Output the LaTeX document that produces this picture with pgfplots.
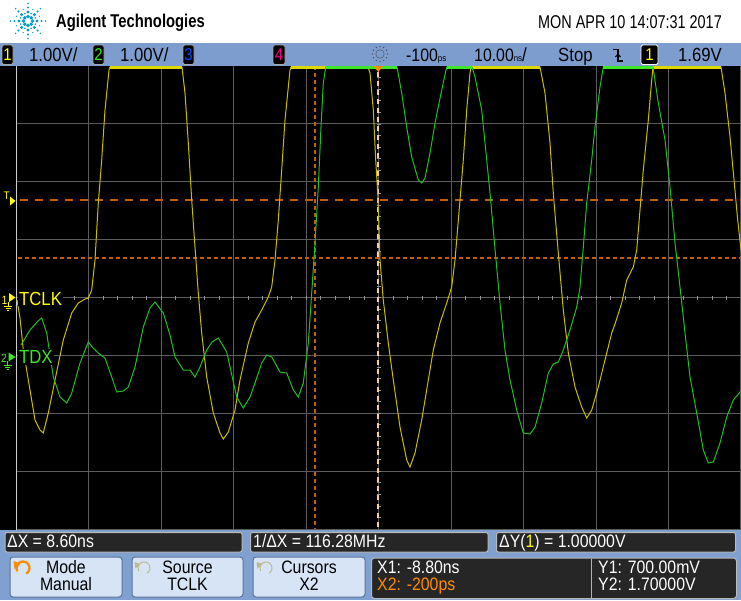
\documentclass[border=0pt]{standalone}
\usepackage{pgfplots}
\pgfplotsset{compat=1.18}
\usepackage{fontspec}
\setmainfont{Liberation Sans}[FakeStretch=0.88]
\newfontfamily\hdr{Liberation Sans}[FakeStretch=0.8]
\newfontfamily\datef{Liberation Sans}[FakeStretch=0.78]
\definecolor{statbar}{RGB}{124,157,206}
\definecolor{botbg}{RGB}{128,160,208}
\definecolor{btn}{RGB}{214,228,246}
\definecolor{btnborder}{RGB}{90,115,155}
\definecolor{darkbar}{RGB}{38,38,38}
\definecolor{gridc}{RGB}{92,92,92}
\definecolor{ytrace}{RGB}{200,190,0}
\definecolor{gtrace}{RGB}{35,190,35}
\definecolor{ylab}{RGB}{255,255,0}
\definecolor{glab}{RGB}{60,230,40}
\definecolor{curs}{RGB}{190,95,15}
\definecolor{curs2}{RGB}{245,205,160}
\definecolor{logo}{RGB}{0,155,200}
\definecolor{orng}{RGB}{255,140,0}
\newcommand{\fs}[1]{\fontsize{#1}{#1}\selectfont}
\begin{document}
\begin{tikzpicture}[x=1pt,y=-1pt]
\useasboundingbox (0,0) rectangle (741,600);
% backgrounds
\fill[white] (0,0) rectangle (741,42.5);
\fill[statbar] (0,42.5) rectangle (741,66);
\fill[black] (0,66) rectangle (741,530);
\fill[botbg] (0,530) rectangle (741,600);
% logo
\foreach \a in {0,45,...,315} {
  \foreach \r/\s in {4.5/1.9,9/1.6,13.5/1.2,17.5/0.8} {
    \fill[logo] (28,21) ++(\a:\r) circle (\s pt);
  }
}
\foreach \a in {22.5,67.5,...,337.5} {
  \foreach \r/\s in {8/0.9,12.5/0.7} {
    \fill[logo] (28,21) ++(\a:\r) circle (\s pt);
  }
}
\node[anchor=base west,inner sep=0] at (56,27.3) {\hdr\bfseries\fs{18.5}Agilent Technologies};
\node[anchor=base east,inner sep=0] at (722,28.3) {\datef\fs{18.5}MON APR 10 14:07:31 2017};
% status bar
\newcommand{\chbox}[5]{%
  \draw[fill=black,draw=#5,rounded corners=1.5pt,line width=0.8pt] (#1,45) rectangle (#2,64.5);
  \node[text=#3,inner sep=0] at ({(#1+#2)/2},55) {\fs{17}#4};}
\chbox{2}{13}{ylab}{1}{gray!70}
\chbox{93}{104}{glab}{2}{gray!70}
\chbox{183}{194}{blue!70!cyan}{3}{gray!70}
\chbox{273}{285}{magenta}{4}{gray!70}
\chbox{641}{658}{ylab}{1}{white}
\node[anchor=base west,inner sep=0] at (29,61.7) {\fs{19}1.00V/};
\node[anchor=base west,inner sep=0] at (120,61.7) {\fs{19}1.00V/};
% acquisition icon
\foreach \a in {0,30,...,330} {
  \fill[black!75] (380,54) ++(\a:4) circle (0.7pt);
  \fill[black!75] (380,54) ++(\a:7.5) circle (0.7pt);
}
\node[anchor=base west,inner sep=0] at (406,61.7) {\fs{18}-100\fs{9}ps};
\node[anchor=base west,inner sep=0] at (474,61.7) {\fs{18}10.00\fs{9}ns\fs{19}/};
\node[anchor=base west,inner sep=0] at (558,61.7) {\fs{19}Stop};
\draw[black,line width=1.3pt] (613,49.5)--(618,49.5)--(618,61)--(622.5,61);
\draw[black,line width=1pt] (615.5,57)--(618,54)--(620.5,57);
\node[anchor=base east,inner sep=0] at (722,61.7) {\fs{19}1.69V};
% graticule
\foreach \i in {1,...,9} \draw[gridc,line width=0.9pt] ({16+72.5*\i},66) -- ({16+72.5*\i},529);
\draw[gridc,line width=0.9pt] (740.5,66) -- (740.5,529);
\foreach \j in {1,...,7} \draw[gridc,line width=0.9pt] (16,{66+57.875*\j}) -- (741,{66+57.875*\j});
\draw[gray!70!black,line width=0.9pt] (16,529) -- (741,529);
\draw[white!80!black,line width=1pt] (16,66) -- (16,530);
\foreach \k in {1,...,49} \draw[gray!85,line width=0.7pt] ({16+14.5*\k},295.5)--({16+14.5*\k},299.5);
\foreach \k in {1,...,39} \draw[gray!85,line width=0.7pt] (376.5,{66+11.575*\k})--(380.5,{66+11.575*\k});
% axis with cursors and traces (screen pixel coordinates)
\begin{axis}[at={(16,66)},anchor=north west,scale only axis,
  width=725pt,height=463pt,xmin=16,xmax=741,ymin=66,ymax=529,
  y dir=reverse,hide axis]
% cursors
\addplot[curs,line width=1.3pt,dash pattern=on 4pt off 3pt] coordinates {(315,66) (315,529)};
\addplot[curs,line width=1.3pt,dash pattern=on 8pt off 7pt] coordinates {(20,200) (741,200)};
\addplot[curs,line width=1.3pt,dash pattern=on 4pt off 3pt] coordinates {(18,258) (741,258)};
\addplot[curs2,line width=1.1pt,dash pattern=on 5pt off 4pt] coordinates {(378,72) (378,529)};
% TCLK (channel 1)
\addplot[ytrace,line width=1pt] coordinates {
(17,300) (20,318) (23.3,350) (30,390) (35,420) (40,430) (43.3,433) (48.3,413)
(55,380) (63.3,340) (71.7,313) (78.3,303) (85,299) (88.3,298) (91.7,290)
(95,260) (98.3,203) (101.7,160) (105,110) (109,70) (110,67)
(182,67) (185,93) (188.3,143) (191.7,200) (195,247) (198.3,293) (201.7,333)
(206.7,377) (213.3,413) (220,433) (223.3,439) (228.3,432) (235,410) (240,380)
(248.3,343) (255,322) (261.7,310) (268.3,297) (271.7,287) (275,260) (278.3,220)
(281.7,170) (285,120) (290,70) (291,67)
(368,67) (370,73) (373.3,110) (375.7,160) (377.7,193) (379,227) (380,260)
(383.3,300) (388.3,343) (393.3,380) (400,427) (406.7,460) (410,467) (415,453)
(421.7,420) (428.3,380) (433.3,350) (440,323) (446.7,303) (451.7,287) (455,260)
(460,200) (463.3,160) (466.7,110) (470,73) (471,67)
(540,67) (545,93) (550,143) (553.3,193) (558.3,253) (563.3,310) (568.3,353)
(575,387) (581.7,407) (586.7,418) (591.7,410) (598.3,387) (605,360) (611.7,333)
(615,324) (621.7,303) (626.7,280) (633.3,267) (636.7,250) (640,210) (643.3,170)
(648.3,120) (651.7,80) (653,67)
(721,67) (725,93) (730,137) (734.3,183) (737.7,220) (741,250)};
\addplot[ytrace!60!ylab,line width=3pt] coordinates {(110,67.5) (182,67.5)};
\addplot[ytrace!60!ylab,line width=3pt] coordinates {(291,67.5) (368,67.5)};
\addplot[ytrace!60!ylab,line width=3pt] coordinates {(471,67.5) (540,67.5)};
\addplot[ytrace!60!ylab,line width=3pt] coordinates {(653,67.5) (721,67.5)};
% TDX (channel 2)
\addplot[gtrace,line width=1pt] coordinates {
(21,345) (30,330) (38,321) (41.7,318) (46.7,333) (53.3,377) (60,397) (66.7,403)
(71.7,393) (80,363) (88.3,342) (93,348) (98.3,353) (105,358) (111.7,377)
(116.7,392) (123.3,391) (128.3,387) (135,367) (143.3,327) (150,308) (155,302)
(163.3,313) (170,335) (175,357) (183.3,370) (190,370) (195,377) (200,367)
(206.7,350) (212,342) (218.3,338) (226.7,352) (236.7,397) (243.3,408) (250,397)
(255,383) (261.7,363) (266.7,355) (271.7,357) (280,372) (286.7,373) (293.3,390)
(298.3,397) (303.3,383) (308.3,343) (311.7,293) (315,243) (318.3,187) (321,127)
(323.3,83) (325.7,67)
(397,67) (401.7,93) (406.7,127) (411.7,157) (418.3,180) (421.7,183) (425,178)
(430,153) (435,123) (441.7,90) (446.7,67)
(472,67) (475,77) (481.7,110) (485,143) (490,193) (495,249) (500,303) (505,350)
(510,380) (516.7,410) (523.3,433) (530,434) (535,427) (541.7,403) (548.3,373)
(553.3,364) (558.3,362) (563.3,350) (570,330) (576.7,307) (580,287) (583.3,247)
(586.7,203) (591.7,160) (595,127) (600,87) (603.3,67)
(653,67) (658.3,103) (665,140) (670,187) (675,243) (680,287) (685,333) (690,377)
(696.7,413) (703.3,450) (708.3,463) (713.3,462) (720,443) (726.7,417)
(733.3,400) (741,391)};
\addplot[glab,line width=3pt] coordinates {(326,67.5) (397,67.5)};
\addplot[glab,line width=3pt] coordinates {(447,67.5) (472,67.5)};
\addplot[glab,line width=3pt] coordinates {(603,67.5) (653,67.5)};
\end{axis}
% X2 marker
\fill[orng] (373.5,66) -- (383,66) -- (378.2,72) -- cycle;
% left markers
\node[anchor=base west,inner sep=0,text=ylab] at (3.5,199.5) {\fs{11}T};
\fill[ylab] (10,196.5) -- (15.5,201) -- (10,205.5) -- cycle;
\node[anchor=base west,inner sep=0,text=ylab] at (1.5,304) {\fs{12}1};
\fill[ylab] (9,293) -- (15.5,297.5) -- (9,302) -- cycle;
\draw[ylab,line width=0.8pt] (8,302)--(8,306) (4,306)--(12,306) (5.5,308)--(10.5,308) (7,310)--(9,310);
\node[anchor=base west,inner sep=1pt,fill=black,text=ylab] at (18,305) {\fs{19}TCLK};
\node[anchor=base west,inner sep=0,text=glab] at (1,362.5) {\fs{12}2};
\fill[glab] (8.5,352.5) -- (15.5,357) -- (8.5,361.5) -- cycle;
\draw[glab,line width=0.8pt] (7.5,361)--(7.5,365) (3.5,365)--(11.5,365) (5,367)--(10,367) (6.5,369)--(8.5,369);
\node[anchor=base west,inner sep=1pt,fill=black,text=glab] at (18,363.5) {\fs{19}TDX};
% measurement bars
\draw[fill=darkbar,draw=gray!55,line width=1pt,rounded corners=2pt] (5,532.5) rectangle (242,552);
\draw[fill=darkbar,draw=gray!55,line width=1pt,rounded corners=2pt] (250.5,532.5) rectangle (488,552);
\draw[fill=darkbar,draw=gray!55,line width=1pt,rounded corners=2pt] (496.5,532.5) rectangle (735.5,552);
\node[anchor=base west,inner sep=0,text=white] at (7,547) {\fs{18}ΔX = 8.60ns};
\node[anchor=base west,inner sep=0,text=white] at (253,547) {\fs{18}1/ΔX = 116.28MHz};
\node[anchor=base west,inner sep=0,text=white] at (499,547) {\fs{18}ΔY(\textcolor{ylab}{1}) = 1.00000V};
% softkeys
\foreach \xa/\xb in {10/122,132/243,253/365}
  \draw[fill=btn,draw=btnborder,line width=1pt,rounded corners=3pt] (\xa,557) rectangle (\xb,597);
\node[anchor=base,inner sep=0] at (66,573) {\fs{18}Mode};
\node[anchor=base,inner sep=0] at (66,590.5) {\fs{18}Manual};
\node[anchor=base,inner sep=0] at (187.5,573) {\fs{18}Source};
\node[anchor=base,inner sep=0] at (187.5,590.5) {\fs{18}TCLK};
\node[anchor=base,inner sep=0] at (309,573) {\fs{18}Cursors};
\node[anchor=base,inner sep=0] at (309,590.5) {\fs{18}X2};
\draw[orng,line width=2.3pt] (23,568) ++(150:6.5) arc[start angle=150,end angle=420,radius=6.5];
\fill[orng] (13.5,561) -- (20.5,563.5) -- (14.5,569) -- cycle;
\foreach \cx in {144,266} {
  \draw[gray!60!olive!60,line width=1pt] (\cx,568) ++(150:6) arc[start angle=150,end angle=420,radius=6];
  \fill[gray!60!olive!60] (\cx-9.5,562) -- (\cx-3.5,564) -- (\cx-8.5,568.5) -- cycle;
}
% cursor readout
\draw[fill=darkbar,draw=gray!55,line width=1pt,rounded corners=3pt] (371.5,558) rectangle (736.5,598.5);
\draw[gray!60,line width=1pt] (591,559) -- (591,598);
\node[anchor=base west,inner sep=0,text=white] at (377,573.3) {\fs{18}X1: -8.80ns};
\node[anchor=base west,inner sep=0,text=orng] at (377,590) {\fs{18}X2: -200ps};
\node[anchor=base west,inner sep=0,text=white] at (598,573.3) {\fs{18}Y1: 700.00mV};
\node[anchor=base west,inner sep=0,text=white] at (598,590) {\fs{18}Y2: 1.70000V};
\end{tikzpicture}
\end{document}
